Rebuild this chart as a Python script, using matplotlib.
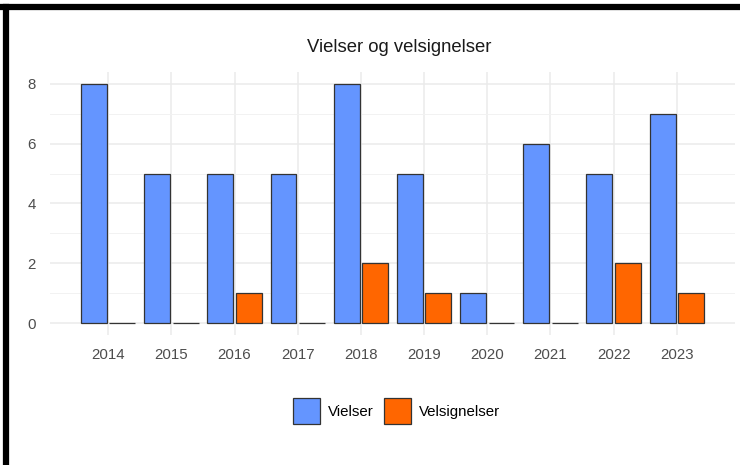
import numpy as np
import matplotlib
matplotlib.use("Agg")
import matplotlib.pyplot as plt
from matplotlib.lines import Line2D

years = ["2014", "2015", "2016", "2017", "2018", "2019", "2020", "2021", "2022", "2023"]
vielser = [8, 5, 5, 5, 8, 5, 1, 6, 5, 7]
velsignelser = [0, 0, 1, 0, 2, 1, 0, 0, 2, 1]

plt.rcParams['font.family'] = ['Liberation Sans', 'DejaVu Sans']

fig = plt.figure(figsize=(7.4, 4.65), dpi=100)
ax = fig.add_axes([50/740, 1-335/465, 685/740, 263/465])

x = np.arange(len(years))
w = 0.41
off = 0.225
ax.bar(x - off, vielser, w, color="#6495FF", edgecolor="#333333", linewidth=0.9,
       label="Vielser", zorder=3)
ax.bar(x + off, velsignelser, w, color="#FF6600", edgecolor="#333333", linewidth=0.9,
       label="Velsignelser", zorder=3)

ax.set_xlim(-0.92, 9.92)
ax.set_ylim(-0.4, 8.4)
ax.set_xticks(x)
ax.set_xticklabels(years)
ax.set_yticks([0, 2, 4, 6, 8])
ax.set_yticks([1, 3, 5, 7], minor=True)
ax.grid(True, which="major", color="#ebebeb", linewidth=1.1, zorder=0)
ax.grid(True, which="minor", axis="y", color="#f2f2f2", linewidth=0.7, zorder=0)
ax.tick_params(which="both", length=0, labelsize=10.8, labelcolor="#4d4d4d")
ax.tick_params(axis="x", pad=9)
ax.tick_params(axis="y", pad=10)
for s in ax.spines.values():
    s.set_visible(False)

fig.text(399/740, 1-48/465, "Vielser og velsignelser", ha="center", va="center",
         fontsize=13.3, color="#1a1a1a")

fig.legend(loc="center", bbox_to_anchor=(396.5/740, 1-411/465), ncol=2, frameon=False,
           fontsize=10.8, handlelength=1.8, handleheight=2.27, handletextpad=0.53,
           columnspacing=0.73)

# black frame at top and left
fig.add_artist(Line2D([0, 1], [1-7.5/465]*2, color="black", linewidth=4.5,
                      transform=fig.transFigure))
fig.add_artist(Line2D([6/740]*2, [0, 1-7.5/465], color="black", linewidth=4.5,
                      transform=fig.transFigure))

fig.savefig("out.png", dpi=100)
